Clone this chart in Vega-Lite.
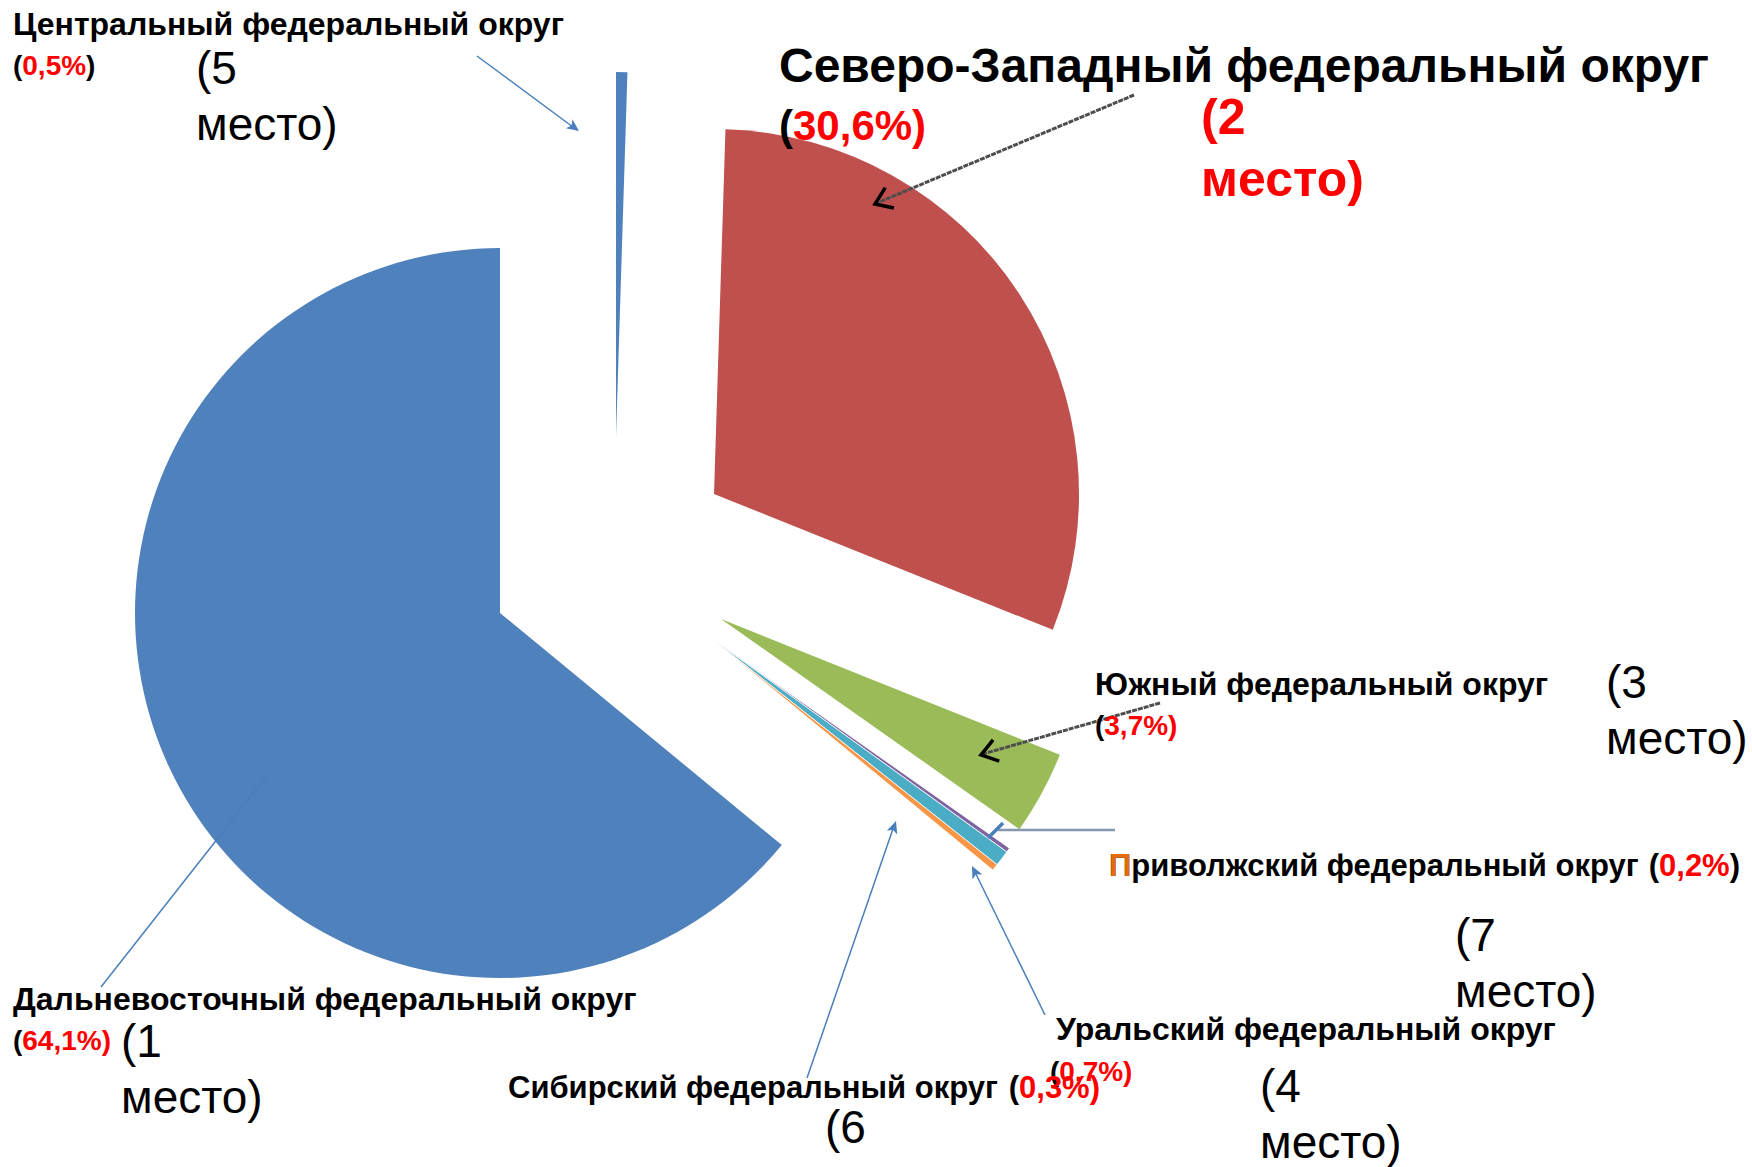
{
  "$schema": "https://vega.github.io/schema/vega-lite/v6.json",
  "width": 1752,
  "height": 1167,
  "autosize": {"type": "none"},
  "padding": 0,
  "background": "white",
  "config": {"view": {"stroke": null}, "font": "Liberation Sans"},
  "data": {
    "values": [
      {"region": "Центральный федеральный округ", "share": 0.5, "share_label": "0,5%", "place": "(5\nместо)", "order": 1},
      {"region": "Северо-Западный федеральный округ", "share": 30.6, "share_label": "30,6%", "place": "(2\nместо)", "order": 2},
      {"region": "Южный федеральный округ", "share": 3.7, "share_label": "3,7%", "place": "(3\nместо)", "order": 3},
      {"region": "Приволжский федеральный округ", "share": 0.2, "share_label": "0,2%", "place": "(7\nместо)", "order": 4},
      {"region": "Уральский федеральный округ", "share": 0.7, "share_label": "0,7%", "place": "(4\nместо)", "order": 5},
      {"region": "Сибирский федеральный округ", "share": 0.3, "share_label": "0,3%", "place": "(6\nместо)", "order": 6},
      {"region": "Дальневосточный федеральный округ", "share": 64.1, "share_label": "64,1%", "place": "(1\nместо)", "order": 7}
    ]
  },
  "transform": [
    {"stack": "share", "groupby": [], "sort": [{"field": "order", "order": "ascending"}], "as": ["v0", "v1"]}
  ],
  "layer": [
    {"transform": [{"filter": "datum.order == 1"}],
     "mark": {"type": "arc", "radius": 365, "x": 616, "y": 437},
     "encoding": {"theta": {"field": "v0", "type": "quantitative", "scale": {"domain": [0, 100.1]}, "stack": null}, "theta2": {"field": "v1"},
       "color": {"field": "region", "type": "nominal", "legend": null, "scale": {"domain": ["Центральный федеральный округ", "Северо-Западный федеральный округ", "Южный федеральный округ", "Приволжский федеральный округ", "Уральский федеральный округ", "Сибирский федеральный округ", "Дальневосточный федеральный округ"], "range": ["#4F81BD", "#C0504D", "#9BBB59", "#8064A2", "#4BACC6", "#F79646", "#4F81BD"]}}}},
    {"transform": [{"filter": "datum.order == 2"}],
     "mark": {"type": "arc", "radius": 365, "x": 714, "y": 494},
     "encoding": {"theta": {"field": "v0", "type": "quantitative", "scale": {"domain": [0, 100.1]}, "stack": null}, "theta2": {"field": "v1"},
       "color": {"field": "region", "type": "nominal", "legend": null}}},
    {"transform": [{"filter": "datum.order == 3"}],
     "mark": {"type": "arc", "radius": 365, "x": 721, "y": 619},
     "encoding": {"theta": {"field": "v0", "type": "quantitative", "scale": {"domain": [0, 100.1]}, "stack": null}, "theta2": {"field": "v1"},
       "color": {"field": "region", "type": "nominal", "legend": null}}},
    {"transform": [{"filter": "datum.order >= 4 && datum.order <= 6"}],
     "mark": {"type": "arc", "radius": 365, "x": 711, "y": 638, "stroke": "white", "strokeWidth": 0.8},
     "encoding": {"theta": {"field": "v0", "type": "quantitative", "scale": {"domain": [0, 100.1]}, "stack": null}, "theta2": {"field": "v1"},
       "color": {"field": "region", "type": "nominal", "legend": null}}},
    {"transform": [{"filter": "datum.order == 7"}],
     "mark": {"type": "arc", "radius": 365, "x": 500, "y": 613},
     "encoding": {"theta": {"field": "v0", "type": "quantitative", "scale": {"domain": [0, 100.1]}, "stack": null}, "theta2": {"field": "v1"},
       "color": {"field": "region", "type": "nominal", "legend": null}}},

    {"transform": [{"filter": "datum.order == 1"}],
     "mark": {"type": "rule", "color": "#4A7EBB", "strokeWidth": 1.5},
     "encoding": {"x": {"value": 477}, "y": {"value": 56}, "x2": {"value": 577}, "y2": {"value": 130}}},
    {"transform": [{"filter": "datum.order == 1"}],
     "mark": {"type": "point", "shape": "M0,0L-1,-0.45L-0.75,0L-1,0.45Z", "filled": true, "fill": "#4A7EBB", "opacity": 1, "size": 600, "angle": 36.3, "x": 579, "y": 131}, "encoding": {}},
    {"transform": [{"filter": "datum.order == 1"}],
     "mark": {"type": "text", "x": 13, "y": 35, "fontSize": 32, "fontWeight": "bold", "fill": "#000", "align": "left", "baseline": "alphabetic"},
     "encoding": {"text": {"field": "region"}}},
    {"transform": [{"filter": "datum.order == 1"}],
     "mark": {"type": "text", "text": "(", "x": 13, "y": 75, "fontSize": 28, "fontWeight": "bold", "fill": "#000", "align": "left", "baseline": "alphabetic"}, "encoding": {}},
    {"transform": [{"filter": "datum.order == 1"}],
     "mark": {"type": "text", "x": 22.3, "y": 75, "fontSize": 28, "fontWeight": "bold", "fill": "#FF0000", "align": "left", "baseline": "alphabetic"},
     "encoding": {"text": {"field": "share_label"}}},
    {"transform": [{"filter": "datum.order == 1"}],
     "mark": {"type": "text", "text": ")", "x": 86.1, "y": 75, "fontSize": 28, "fontWeight": "bold", "fill": "#000", "align": "left", "baseline": "alphabetic"}, "encoding": {}},
    {"transform": [{"filter": "datum.order == 1"}],
     "mark": {"type": "text", "x": 196, "y": 84, "fontSize": 46, "fill": "#000", "align": "left", "baseline": "alphabetic", "lineHeight": 56, "lineBreak": "\n"},
     "encoding": {"text": {"field": "place"}}},

    {"transform": [{"filter": "datum.order == 2"}],
     "mark": {"type": "rule", "color": "#4D4D4D", "strokeWidth": 3, "strokeDash": [5, 1]},
     "encoding": {"x": {"value": 1134}, "y": {"value": 95}, "x2": {"value": 877}, "y2": {"value": 203}}},
    {"transform": [{"filter": "datum.order == 2"}],
     "mark": {"type": "point", "shape": "M-1,-0.7L0,0L-1,0.7", "filled": false, "stroke": "#000", "strokeWidth": 3.5, "opacity": 1, "size": 1000, "angle": 157.2, "x": 875, "y": 204}, "encoding": {}},
    {"transform": [{"filter": "datum.order == 2"}],
     "mark": {"type": "text", "x": 779, "y": 82, "fontSize": 48, "fontWeight": "bold", "fill": "#000", "align": "left", "baseline": "alphabetic"},
     "encoding": {"text": {"field": "region"}}},
    {"transform": [{"filter": "datum.order == 2"}],
     "mark": {"type": "text", "text": "(", "x": 779, "y": 140, "fontSize": 42, "fontWeight": "bold", "fill": "#000", "align": "left", "baseline": "alphabetic"}, "encoding": {}},
    {"transform": [{"filter": "datum.order == 2"}],
     "mark": {"type": "text", "x": 793, "y": 140, "fontSize": 42, "fontWeight": "bold", "fill": "#FF0000", "align": "left", "baseline": "alphabetic"},
     "encoding": {"text": {"field": "share_label"}}},
    {"transform": [{"filter": "datum.order == 2"}],
     "mark": {"type": "text", "text": ")", "x": 912.1, "y": 140, "fontSize": 42, "fontWeight": "bold", "fill": "#FF0000", "align": "left", "baseline": "alphabetic"}, "encoding": {}},
    {"transform": [{"filter": "datum.order == 2"}],
     "mark": {"type": "text", "x": 1201, "y": 134, "fontSize": 50, "fontWeight": "bold", "fill": "#FF0000", "align": "left", "baseline": "alphabetic", "lineHeight": 62, "lineBreak": "\n"},
     "encoding": {"text": {"field": "place"}}},

    {"transform": [{"filter": "datum.order == 3"}],
     "mark": {"type": "rule", "color": "#4D4D4D", "strokeWidth": 3, "strokeDash": [5, 1]},
     "encoding": {"x": {"value": 1160}, "y": {"value": 703}, "x2": {"value": 983}, "y2": {"value": 754}}},
    {"transform": [{"filter": "datum.order == 3"}],
     "mark": {"type": "point", "shape": "M-1,-0.7L0,0L-1,0.7", "filled": false, "stroke": "#000", "strokeWidth": 3.5, "opacity": 1, "size": 1000, "angle": 163.8, "x": 981, "y": 755}, "encoding": {}},
    {"transform": [{"filter": "datum.order == 3"}],
     "mark": {"type": "text", "x": 1095, "y": 695, "fontSize": 32, "fontWeight": "bold", "fill": "#000", "align": "left", "baseline": "alphabetic"},
     "encoding": {"text": {"field": "region"}}},
    {"transform": [{"filter": "datum.order == 3"}],
     "mark": {"type": "text", "text": "(", "x": 1095, "y": 735, "fontSize": 28, "fontWeight": "bold", "fill": "#000", "align": "left", "baseline": "alphabetic"}, "encoding": {}},
    {"transform": [{"filter": "datum.order == 3"}],
     "mark": {"type": "text", "x": 1104.3, "y": 735, "fontSize": 28, "fontWeight": "bold", "fill": "#FF0000", "align": "left", "baseline": "alphabetic"},
     "encoding": {"text": {"field": "share_label"}}},
    {"transform": [{"filter": "datum.order == 3"}],
     "mark": {"type": "text", "text": ")", "x": 1168.1, "y": 735, "fontSize": 28, "fontWeight": "bold", "fill": "#FF0000", "align": "left", "baseline": "alphabetic"}, "encoding": {}},
    {"transform": [{"filter": "datum.order == 3"}],
     "mark": {"type": "text", "x": 1606, "y": 698, "fontSize": 46, "fill": "#000", "align": "left", "baseline": "alphabetic", "lineHeight": 56, "lineBreak": "\n"},
     "encoding": {"text": {"field": "place"}}},

    {"transform": [{"filter": "datum.order == 4"}],
     "mark": {"type": "rule", "color": "#8496B0", "strokeWidth": 2.5},
     "encoding": {"x": {"value": 1115}, "y": {"value": 830}, "x2": {"value": 998}, "y2": {"value": 830}}},
    {"transform": [{"filter": "datum.order == 4"}],
     "mark": {"type": "rule", "color": "#4A7EBB", "strokeWidth": 3.5},
     "encoding": {"x": {"value": 1003}, "y": {"value": 823}, "x2": {"value": 988}, "y2": {"value": 838}}},
    {"transform": [{"filter": "datum.order == 4"}],
     "mark": {"type": "text", "x": 1109, "y": 876, "fontSize": 31, "fontWeight": "bold", "fill": "#000", "align": "left", "baseline": "alphabetic"},
     "encoding": {"text": {"field": "region"}}},
    {"transform": [{"filter": "datum.order == 4"}],
     "mark": {"type": "text", "text": "П", "x": 1109, "y": 876, "fontSize": 31, "fontWeight": "bold", "fill": "#E46C0A", "align": "left", "baseline": "alphabetic"}, "encoding": {}},
    {"transform": [{"filter": "datum.order == 4"}],
     "mark": {"type": "text", "text": "(", "x": 1659.1, "y": 876, "fontSize": 31, "fontWeight": "bold", "fill": "#000", "align": "right", "baseline": "alphabetic"}, "encoding": {}},
    {"transform": [{"filter": "datum.order == 4"}],
     "mark": {"type": "text", "x": 1729.7, "y": 876, "fontSize": 31, "fontWeight": "bold", "fill": "#FF0000", "align": "right", "baseline": "alphabetic"},
     "encoding": {"text": {"field": "share_label"}}},
    {"transform": [{"filter": "datum.order == 4"}],
     "mark": {"type": "text", "text": ")", "x": 1740, "y": 876, "fontSize": 31, "fontWeight": "bold", "fill": "#000", "align": "right", "baseline": "alphabetic"}, "encoding": {}},
    {"transform": [{"filter": "datum.order == 4"}],
     "mark": {"type": "text", "x": 1455, "y": 951, "fontSize": 46, "fill": "#000", "align": "left", "baseline": "alphabetic", "lineHeight": 56, "lineBreak": "\n"},
     "encoding": {"text": {"field": "place"}}},

    {"transform": [{"filter": "datum.order == 5"}],
     "mark": {"type": "rule", "color": "#4A7EBB", "strokeWidth": 1.5},
     "encoding": {"x": {"value": 1045}, "y": {"value": 1015}, "x2": {"value": 973}, "y2": {"value": 868}}},
    {"transform": [{"filter": "datum.order == 5"}],
     "mark": {"type": "point", "shape": "M0,0L-1,-0.45L-0.75,0L-1,0.45Z", "filled": true, "fill": "#4A7EBB", "opacity": 1, "size": 600, "angle": -116.1, "x": 972, "y": 866}, "encoding": {}},
    {"transform": [{"filter": "datum.order == 5"}],
     "mark": {"type": "text", "x": 1056, "y": 1040, "fontSize": 32, "fontWeight": "bold", "fill": "#000", "align": "left", "baseline": "alphabetic"},
     "encoding": {"text": {"field": "region"}}},
    {"transform": [{"filter": "datum.order == 5"}],
     "mark": {"type": "text", "text": "(", "x": 1050, "y": 1081, "fontSize": 28, "fontWeight": "bold", "fill": "#000", "align": "left", "baseline": "alphabetic"}, "encoding": {}},
    {"transform": [{"filter": "datum.order == 5"}],
     "mark": {"type": "text", "x": 1059.3, "y": 1081, "fontSize": 28, "fontWeight": "bold", "fill": "#FF0000", "align": "left", "baseline": "alphabetic"},
     "encoding": {"text": {"field": "share_label"}}},
    {"transform": [{"filter": "datum.order == 5"}],
     "mark": {"type": "text", "text": ")", "x": 1123.1, "y": 1081, "fontSize": 28, "fontWeight": "bold", "fill": "#FF0000", "align": "left", "baseline": "alphabetic"}, "encoding": {}},
    {"transform": [{"filter": "datum.order == 5"}],
     "mark": {"type": "text", "x": 1260, "y": 1102, "fontSize": 46, "fill": "#000", "align": "left", "baseline": "alphabetic", "lineHeight": 56, "lineBreak": "\n"},
     "encoding": {"text": {"field": "place"}}},

    {"transform": [{"filter": "datum.order == 6"}],
     "mark": {"type": "rule", "color": "#4A7EBB", "strokeWidth": 1.5},
     "encoding": {"x": {"value": 807}, "y": {"value": 1078}, "x2": {"value": 895}, "y2": {"value": 823}}},
    {"transform": [{"filter": "datum.order == 6"}],
     "mark": {"type": "point", "shape": "M0,0L-1,-0.45L-0.75,0L-1,0.45Z", "filled": true, "fill": "#4A7EBB", "opacity": 1, "size": 600, "angle": -70.9, "x": 896, "y": 821}, "encoding": {}},
    {"transform": [{"filter": "datum.order == 6"}],
     "mark": {"type": "text", "x": 508, "y": 1098, "fontSize": 31, "fontWeight": "bold", "fill": "#000", "align": "left", "baseline": "alphabetic"},
     "encoding": {"text": {"field": "region"}}},
    {"transform": [{"filter": "datum.order == 6"}],
     "mark": {"type": "text", "text": "(", "x": 1019.1, "y": 1098, "fontSize": 31, "fontWeight": "bold", "fill": "#000", "align": "right", "baseline": "alphabetic"}, "encoding": {}},
    {"transform": [{"filter": "datum.order == 6"}],
     "mark": {"type": "text", "x": 1089.7, "y": 1098, "fontSize": 31, "fontWeight": "bold", "fill": "#FF0000", "align": "right", "baseline": "alphabetic"},
     "encoding": {"text": {"field": "share_label"}}},
    {"transform": [{"filter": "datum.order == 6"}],
     "mark": {"type": "text", "text": ")", "x": 1100, "y": 1098, "fontSize": 31, "fontWeight": "bold", "fill": "#FF0000", "align": "right", "baseline": "alphabetic"}, "encoding": {}},
    {"transform": [{"filter": "datum.order == 6"}],
     "mark": {"type": "text", "x": 825, "y": 1143, "fontSize": 46, "fill": "#000", "align": "left", "baseline": "alphabetic", "lineHeight": 90, "lineBreak": "\n"},
     "encoding": {"text": {"field": "place"}}},

    {"transform": [{"filter": "datum.order == 7"}],
     "mark": {"type": "rule", "color": "#4A7EBB", "strokeWidth": 1.5},
     "encoding": {"x": {"value": 101}, "y": {"value": 987}, "x2": {"value": 266}, "y2": {"value": 777}}},
    {"transform": [{"filter": "datum.order == 7"}],
     "mark": {"type": "text", "x": 13, "y": 1010, "fontSize": 32, "fontWeight": "bold", "fill": "#000", "align": "left", "baseline": "alphabetic"},
     "encoding": {"text": {"field": "region"}}},
    {"transform": [{"filter": "datum.order == 7"}],
     "mark": {"type": "text", "text": "(", "x": 13, "y": 1050, "fontSize": 28, "fontWeight": "bold", "fill": "#000", "align": "left", "baseline": "alphabetic"}, "encoding": {}},
    {"transform": [{"filter": "datum.order == 7"}],
     "mark": {"type": "text", "x": 22.3, "y": 1050, "fontSize": 28, "fontWeight": "bold", "fill": "#FF0000", "align": "left", "baseline": "alphabetic"},
     "encoding": {"text": {"field": "share_label"}}},
    {"transform": [{"filter": "datum.order == 7"}],
     "mark": {"type": "text", "text": ")", "x": 101.7, "y": 1050, "fontSize": 28, "fontWeight": "bold", "fill": "#FF0000", "align": "left", "baseline": "alphabetic"}, "encoding": {}},
    {"transform": [{"filter": "datum.order == 7"}],
     "mark": {"type": "text", "x": 121, "y": 1057, "fontSize": 46, "fill": "#000", "align": "left", "baseline": "alphabetic", "lineHeight": 56, "lineBreak": "\n"},
     "encoding": {"text": {"field": "place"}}}
  ]
}
